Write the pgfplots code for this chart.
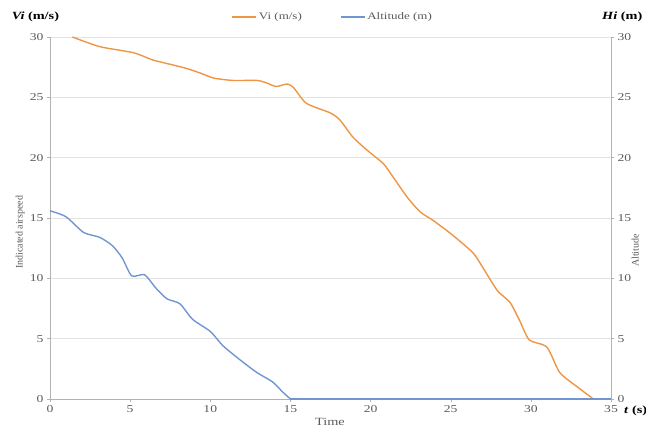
\documentclass[border=0pt]{standalone}
\usepackage{pgfplots}
\pgfplotsset{compat=1.18}
\usepackage{graphicx}
\usepackage{fontspec}
\setmainfont{Liberation Serif}
\definecolor{vorange}{RGB}{237,150,70}
\definecolor{hblue}{RGB}{112,150,210}
\definecolor{ticktxt}{RGB}{90,90,90}
\newcommand{\wide}[1]{\scalebox{1.3}[1]{#1}}
\begin{document}
\begin{tikzpicture}
\begin{axis}[
  name=ax,
  width=561pt, height=362pt, scale only axis,
  xmin=0, xmax=35, ymin=0, ymax=30,
  xtick={0,5,...,35}, ytick={0,5,...,30},
  axis x line*=bottom, axis y line*=left,
  axis line style={draw=gray!60,-},
  tick style={draw=gray!60, thin},
  tick align=outside, major tick length=3pt,
  ymajorgrids, grid style={draw=gray!22, line width=0.8pt},
  tick label style={font=\fontsize{10.5}{12}\selectfont, text=ticktxt},
  xticklabel={\wide{\pgfmathprintnumber{\tick}}},
  yticklabel={\wide{\pgfmathprintnumber{\tick}}},
  /pgf/number format/assume math mode=true,
  clip=false,
  legend style={draw=none, fill=none, at={(0.504,1)}, anchor=center, yshift=20pt,
    legend columns=2, font=\fontsize{10}{12}\selectfont, text=ticktxt,
    inner sep=0pt,
    /tikz/every even column/.append style={column sep=36pt}},
  legend image code/.code={\draw[#1] (0pt,0pt) -- (24pt,0pt);},
]
\addplot[vorange, line width=1.4pt, smooth, tension=0.4] coordinates {
(1.4,30) (3.1,29.2) (5.2,28.7) (6.4,28.1) (7.3,27.8) (8.5,27.4) (9.4,27.0)
(10.2,26.6) (11.4,26.4) (12.9,26.4) (13.5,26.2) (14.1,25.9) (14.8,26.1)
(15.2,25.8) (16.0,24.5) (17.5,23.7) (18.1,23.1) (18.9,21.7) (19.8,20.6)
(20.8,19.5) (21.4,18.4) (22.3,16.7) (23.1,15.5) (23.9,14.8) (25.1,13.6)
(26.4,12.1) (27.0,10.9) (27.9,9.0) (28.7,8.0) (29.3,6.5) (29.9,4.9)
(31.0,4.3) (31.8,2.2) (32.9,1.0) (33.9,0.0)
};
\addlegendentry{\wide{Vi (m/s)}}
\addplot[hblue, line width=1.4pt, smooth, tension=0.4] coordinates {
(0,15.6) (1.0,15.1) (2.1,13.8) (3.1,13.4) (3.9,12.7) (4.5,11.7) (5.1,10.2)
(5.9,10.3) (6.6,9.2) (7.3,8.3) (8.1,7.9) (8.9,6.6) (10.0,5.6) (10.8,4.4)
(11.9,3.2) (12.9,2.2) (13.9,1.4) (14.5,0.6) (15.0,0.0)
};
\addlegendentry{\wide{Altitude (m)}}
\addplot[hblue, line width=1.4pt, forget plot] coordinates {
(15.0,0) (20,0) (25,0) (30,0) (35,0)
};
\end{axis}
\begin{axis}[
  width=561pt, height=362pt, scale only axis,
  xmin=0, xmax=35, ymin=0, ymax=30,
  axis x line=none, axis y line*=right,
  axis line style={draw=gray!60,-},
  tick style={draw=gray!60, thin},
  tick align=outside, major tick length=3pt,
  ytick={0,5,...,30},
  tick label style={font=\fontsize{10.5}{12}\selectfont, text=ticktxt},
  yticklabel={\wide{\pgfmathprintnumber{\tick}}},
  /pgf/number format/assume math mode=true,
  clip=false,
]
\node[rotate=90, font=\fontsize{10}{12}\selectfont, text=ticktxt] at (rel axis cs:-0.053,0.46) {Indicated airspeed};
\node[rotate=90, font=\fontsize{10}{12}\selectfont, text=ticktxt] at (rel axis cs:1.043,0.41) {Altitude};
\node[font=\fontsize{11}{13}\selectfont, text=ticktxt] at (rel axis cs:0.499,-0.062) {\wide{Time}};
\node[font=\fontsize{11}{13}\selectfont\bfseries] at (rel axis cs:-0.026,1.055) {\wide{\textit{Vi} (m/s)}};
\node[font=\fontsize{11}{13}\selectfont\bfseries] at (rel axis cs:1.02,1.055) {\wide{\textit{Hi} (m)}};
\node[font=\fontsize{11}{13}\selectfont\bfseries] at (rel axis cs:1.044,-0.032) {\wide{\textit{t} (s)}};
\end{axis}
\pgfresetboundingbox
\path[use as bounding box] ([xshift=-50pt,yshift=-29pt]ax.south west) rectangle ([xshift=35pt,yshift=37pt]ax.north east);
\end{tikzpicture}
\end{document}
